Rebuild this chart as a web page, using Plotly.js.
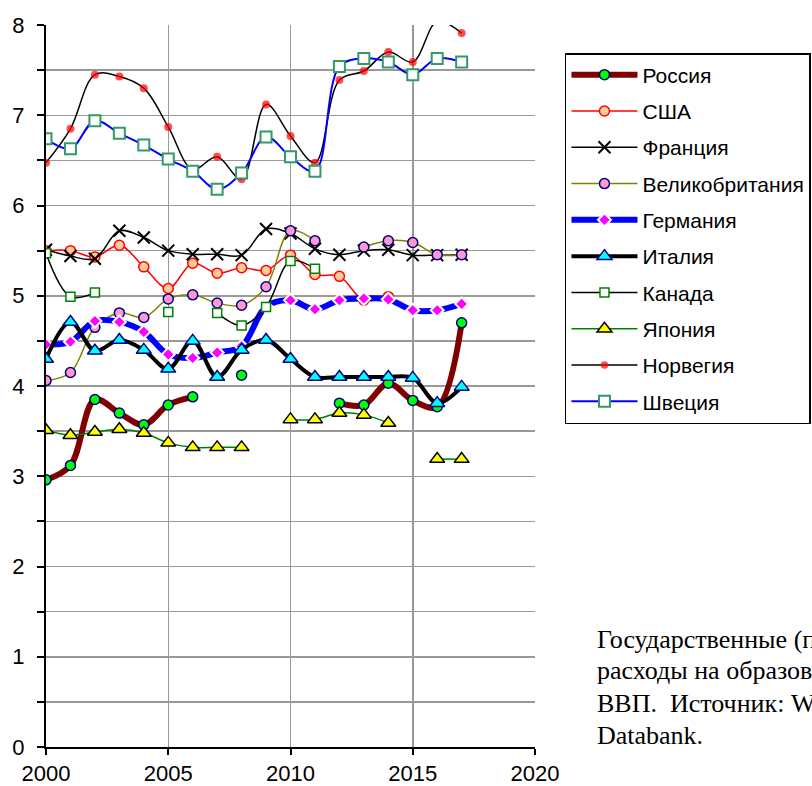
<!DOCTYPE html>
<html>
<head>
<meta charset="utf-8">
<script src="https://cdn.plot.ly/plotly-3.0.1.min.js"></script>
<style>html,body{margin:0;padding:0;background:#fff;overflow:hidden}#chart{width:812px;height:786px}</style>
</head>
<body>
<div id="chart"></div>
<script>
const years = [2000,2001,2002,2003,2004,2005,2006,2007,2008,2009,2010,2011,2012,2013,2014,2015,2016,2017];
const russia  = [2.96,3.12,3.85,3.70,3.57,3.79,3.88,null,4.12,null,null,null,3.81,3.79,4.03,3.84,3.77,4.70];
const usa     = [5.50,5.50,5.43,5.56,5.32,5.08,5.36,5.25,5.31,5.28,5.45,5.235,5.215,4.95,4.99,null,null,null];
const france  = [5.51,5.44,5.41,5.72,5.645,5.50,5.46,5.46,5.45,5.74,5.69,5.52,5.455,5.50,5.51,5.45,5.45,5.455];
const uk      = [4.06,4.15,4.65,4.81,4.76,4.965,5.01,4.92,4.895,5.10,5.72,5.61,null,5.54,5.61,5.59,5.455,5.455];
const germany = [4.46,4.49,4.72,4.71,4.60,4.35,4.31,4.37,4.44,4.88,4.95,4.85,4.95,4.97,4.96,4.84,4.84,4.91];
const italy   = [4.30,4.71,4.39,4.51,4.40,4.19,4.50,4.10,4.40,4.51,4.30,4.10,4.10,4.10,4.10,4.09,3.81,3.99];
const canada  = [5.47,4.99,5.035,null,null,4.82,null,4.81,4.67,4.875,5.385,5.30,null,null,null,null,null,null];
const japan   = [3.51,3.455,3.49,3.52,3.48,3.37,3.32,3.32,3.32,null,3.63,3.63,3.70,3.68,3.59,null,3.19,3.19];
const norway  = [6.475,6.85,7.45,7.43,7.30,6.87,6.40,6.54,6.29,7.12,6.77,6.475,7.39,7.49,7.70,7.59,8.04,7.91];
const sweden  = [6.74,6.63,6.94,6.80,6.67,6.515,6.38,6.18,6.36,6.76,6.54,6.38,7.54,7.63,7.59,7.45,7.63,7.59];

const names = ['Россия','США','Франция','Великобритания','Германия','Италия','Канада','Япония','Норвегия','Швеция'];
const xTickVals = [2000,2005,2010,2015,2020];
const noteLines = ['Государственные (публичные)','расходы на образование, %','ВВП.&nbsp;&nbsp;Источник: World Bank','Databank.'];

const sp = {shape:'spline', smoothing:1};
function tr(i, y, line, marker){
  return {x: years, y: y, name: names[i], legendgroup: 'g'+i, type:'scatter', mode:'lines+markers',
    connectgaps:false, line: Object.assign({}, sp, line), marker: marker, cliponaxis:true};
}
const data = [
  tr(0, russia, {color:'#800000', width:6}, {symbol:'circle', size:10, color:'#00ff00', line:{color:'#000080', width:1.5}}),
  tr(1, usa, {color:'#ff0000', width:1.5}, {symbol:'circle', size:10, color:'#ffcc99', line:{color:'#ff0000', width:1.5}}),
  tr(2, france, {color:'#000000', width:1.5}, {symbol:'x-thin-open', size:12, color:'#000000', line:{color:'#000000', width:2}}),
  tr(3, uk, {color:'#808000', width:1.5}, {symbol:'circle', size:10, color:'#ff99cc', line:{color:'#000080', width:1.5}}),
  tr(4, germany, {color:'#0000ff', width:6}, {symbol:'diamond', size:10, color:'#ff00ff', line:{color:'#ffffff', width:2}}),
  tr(5, italy, {color:'#000000', width:4}, {symbol:'triangle-up', size:13, color:'#00ffff', line:{color:'#000080', width:1.5}}),
  tr(6, canada, {color:'#000000', width:1.5}, {symbol:'square', size:9, color:'#ffffff', line:{color:'#008000', width:1.5}}),
  tr(7, japan, {color:'#008000', width:1.5}, {symbol:'triangle-up', size:13, color:'#ffff00', line:{color:'#000000', width:1.5}}),
  tr(8, norway, {color:'#000000', width:1.5}, {symbol:'circle', size:norway.map(v => v > 8 ? 0 : 8), color:'#ff0000', line:{width:0}}),
  tr(9, sweden, {color:'#0000ff', width:2}, {symbol:'square', size:11, color:'#ffffff', line:{color:'#339966', width:2}})
];

const noteY = [0.1482, 0.1053, 0.0609, 0.0166];
const annotations = noteLines.map((t, k) => ({xref:'paper', yref:'paper', x:1.1227, y:noteY[k], xanchor:'left', yanchor:'middle',
  align:'left', showarrow:false, text:t, font:{family:'Liberation Serif, Times New Roman, serif', size:26, color:'#000'}}));

const layout = {
  width:812, height:786,
  margin:{l:46, r:277, t:25, b:39, autoexpand:false},
  paper_bgcolor:'#ffffff', plot_bgcolor:'#ffffff',
  font:{family:'Liberation Sans, Arial, sans-serif', color:'#000'},
  showlegend:true,
  legend:{x:1.0613, y:0.9612, xanchor:'left', yanchor:'top', bgcolor:'#ffffff', bordercolor:'#000', borderwidth:1.5,
    font:{family:'Liberation Sans, Arial, sans-serif', size:21, color:'#000'}, tracegroupgap:6, itemwidth:66},
  xaxis:{range:[2000,2020], tickvals:xTickVals, showgrid:true, gridcolor:'#999999', gridwidth:1.5,
    showline:true, linecolor:'#000', linewidth:2, ticks:'outside', ticklen:6, tickwidth:2, tickcolor:'#000',
    zeroline:false, tickfont:{size:22}, ticklabelstandoff:0},
  yaxis:{range:[0,8], dtick:1, tick0:0, showgrid:true, gridcolor:'#999999', gridwidth:1.5,
    showline:true, linecolor:'#000', linewidth:2, ticks:'outside', ticklen:7, tickwidth:2, tickcolor:'#000',
    zeroline:false, tickfont:{size:22}, ticklabelstandoff:8,
    minor:{dtick:0.5, showgrid:true, gridcolor:'#999999', gridwidth:1.5, ticks:'outside', ticklen:7, tickwidth:2, tickcolor:'#000'}},
  annotations: annotations
};
Plotly.newPlot('chart', data, layout, {staticPlot:true});
</script>
</body>
</html>
